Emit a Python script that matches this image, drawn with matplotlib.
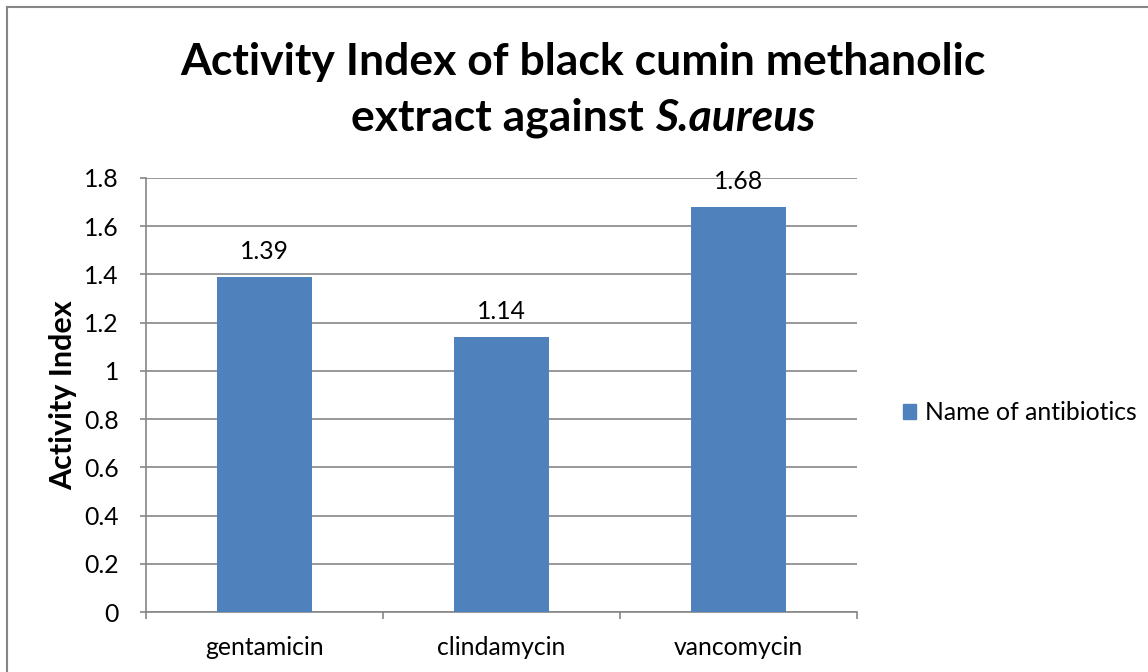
import matplotlib
matplotlib.use("Agg")
import matplotlib.pyplot as plt
from matplotlib.lines import Line2D
from matplotlib.patches import Patch

antibiotics = ["gentamicin", "clindamycin", "vancomycin"]
activity_index = [1.39, 1.14, 1.68]
value_labels = ["1.39", "1.14", "1.68"]
y_ticks = [0, 0.2, 0.4, 0.6, 0.8, 1, 1.2, 1.4, 1.6, 1.8]
y_tick_labels = ["0", "0.2", "0.4", "0.6", "0.8", "1", "1.2", "1.4", "1.6", "1.8"]
series_name = "Name of antibiotics"

FONT = "Lato"
W, H = 1148, 672
BAR = "#4F81BD"
GRID = "#868686"
FS = 17.8

plt.rcParams["font.family"] = [FONT, "DejaVu Sans"]

fig = plt.figure(figsize=(W / 100, H / 100), dpi=100)
fig.patch.set_facecolor("white")

# chart border
fig.add_artist(Line2D([6.5 / W, 6.5 / W], [0, 1 - 7 / H], transform=fig.transFigure,
                      color=GRID, lw=1.5))
fig.add_artist(Line2D([6.5 / W, 1], [1 - 7 / H, 1 - 7 / H], transform=fig.transFigure,
                      color=GRID, lw=1.5))

ax = fig.add_axes([146 / W, 1 - 612 / H, (857 - 146) / W, (612 - 178) / H])
x = list(range(len(antibiotics)))
ax.bar(x, activity_index, width=0.4, color=BAR, zorder=3, label=series_name)
ax.set_xlim(-0.5, len(antibiotics) - 0.5)
ax.set_ylim(0, 1.8)
ax.set_yticks(y_ticks)
ax.set_yticklabels(y_tick_labels)
ax.grid(axis="y", color=GRID, lw=1.2, zorder=0)
ax.set_axisbelow(True)

for s in ("top", "right"):
    ax.spines[s].set_visible(False)
for s in ("left", "bottom"):
    ax.spines[s].set_color(GRID)
    ax.spines[s].set_linewidth(1.2)

ax.tick_params(axis="y", length=4.5, color=GRID, width=1.2, pad=15, labelsize=FS)
ax.set_xticks([i - 0.5 for i in range(len(antibiotics) + 1)])
ax.set_xticklabels([])
ax.tick_params(axis="x", length=5, color=GRID, width=1.2)
ax.set_xticks(x, minor=True)
ax.set_xticklabels(antibiotics, minor=True, fontsize=FS)
ax.tick_params(axis="x", which="minor", length=0, pad=17.5)

for xi, v, lab in zip(x, activity_index, value_labels):
    ax.annotate(lab, (xi, v), xytext=(0, 10), textcoords="offset points",
                ha="center", va="bottom", fontsize=FS)

fig.text(63 / W, 1 - 395 / H, "Activity Index", rotation=90, ha="center",
         va="center", fontsize=22, fontweight="bold")

ax.legend(handles=[Patch(color=BAR, label=series_name)], loc="center left",
          bbox_to_anchor=(893 / W, 1 - 413 / H), bbox_transform=fig.transFigure,
          frameon=False, fontsize=FS, handlelength=0.55, handleheight=0.55,
          handletextpad=0.35, borderaxespad=0)

# title: two lines, second line mixes bold and bold-italic
cx = 583 / W
TS = 32
fig.text(cx, 1 - 62 / H, "Activity Index of black cumin methanolic", ha="center",
         va="center", fontsize=TS, fontweight="bold")
fig.canvas.draw()
r = fig.canvas.get_renderer()
t1 = fig.text(0, 1 - 118 / H, "extract against ", ha="left", va="center",
              fontsize=TS, fontweight="bold")
t2 = fig.text(0, 1 - 118 / H, "S.aureus", ha="left", va="center",
              fontsize=TS, fontweight="bold", fontstyle="italic")
w1 = t1.get_window_extent(r).width / W
w2 = t2.get_window_extent(r).width / W
start = cx - (w1 + w2) / 2
t1.set_x(start)
t2.set_x(start + w1)

fig.savefig("out.png", dpi=100)
